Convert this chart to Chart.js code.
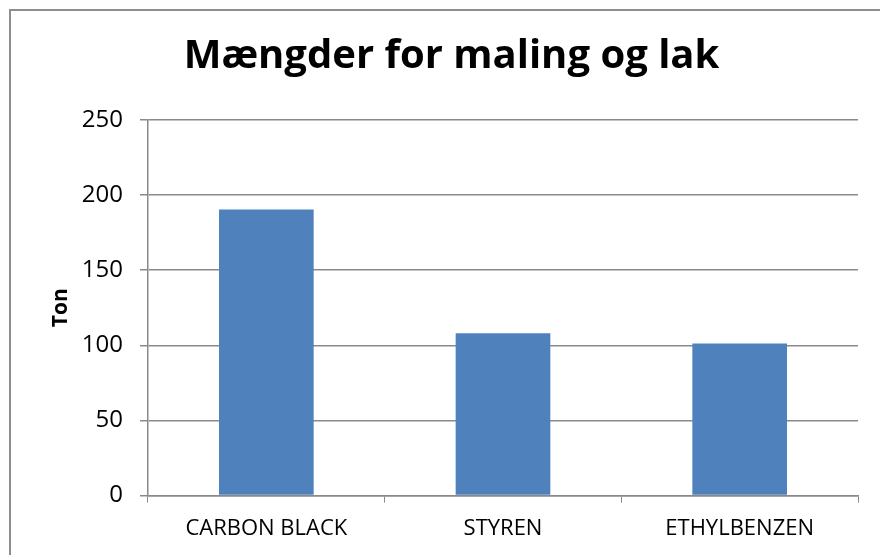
<!DOCTYPE html>
<html>
<head>
<meta charset="utf-8">
<script src="https://cdn.jsdelivr.net/npm/chart.js@4/dist/chart.umd.min.js"></script>
<style>
  html, body { margin: 0; padding: 0; background: #fff; overflow: hidden; }
  canvas { display: block; }
</style>
</head>
<body>
<canvas id="chart" width="880" height="555"></canvas>
<script>
// data ----------------------------------------------------------------------
const categories = ['CARBON BLACK', 'STYREN', 'ETHYLBENZEN'];
const tonValues = [190.5, 108, 101.3];
const yTicks = [0, 50, 100, 150, 200, 250];

const titleText = 'Mængder for maling og lak';
const yTitle = 'Ton';

const font = '"Open Sans", "Liberation Sans", sans-serif';
const gridColor = '#8a8a8a';

// outer chart frame (only left and top edges are inside the picture)
const framePlugin = {
  id: 'frame',
  beforeDraw(chart) {
    const c = chart.ctx;
    c.save();
    c.strokeStyle = '#8e8e8e';
    c.lineWidth = 2;
    c.beginPath();
    c.moveTo(10, chart.height + 5);
    c.lineTo(10, 10);
    c.lineTo(chart.width + 5, 10);
    c.stroke();
    c.restore();
  },
};

new Chart(document.getElementById('chart'), {
  type: 'bar',
  data: {
    labels: categories,
    datasets: [{
      label: yTitle,
      data: tonValues,
      backgroundColor: '#4f81bd',
      borderWidth: 0,
      barPercentage: 0.4,
      categoryPercentage: 1.0,
    }],
  },
  plugins: [framePlugin],
  options: {
    responsive: false,
    animation: false,
    layout: { padding: { left: 45, right: 22, top: 18, bottom: 0 } },
    plugins: {
      legend: { display: false },
      tooltip: { enabled: false },
      title: {
        display: true,
        text: titleText,
        color: '#000',
        font: { family: font, size: 40, weight: 'bold' },
        padding: { top: 15, bottom: 39 },
      },
    },
    scales: {
      x: {
        offset: true,
        grid: {
          offset: true,
          drawOnChartArea: false,
          color: gridColor,
          tickLength: 7,
        },
        border: { color: gridColor, width: 1.5 },
        ticks: { color: '#000', font: { family: font, size: 22 }, padding: 13 },
      },
      y: {
        min: 0,
        max: 250,
        afterBuildTicks: (axis) => { axis.ticks = yTicks.map(v => ({ value: v })); },
        afterFit: (axis) => { axis.width = 148 - 45; },
        grid: { color: gridColor, lineWidth: 1.5, tickLength: 8 },
        border: { color: gridColor, width: 1.5 },
        ticks: { color: '#000', font: { family: font, size: 24 }, padding: 17 },
        title: {
          display: true,
          text: yTitle,
          color: '#000',
          font: { family: font, size: 21, weight: 'bold' },
          padding: { top: 3, bottom: 4 },
        },
      },
    },
  },
});
</script>
</body>
</html>
